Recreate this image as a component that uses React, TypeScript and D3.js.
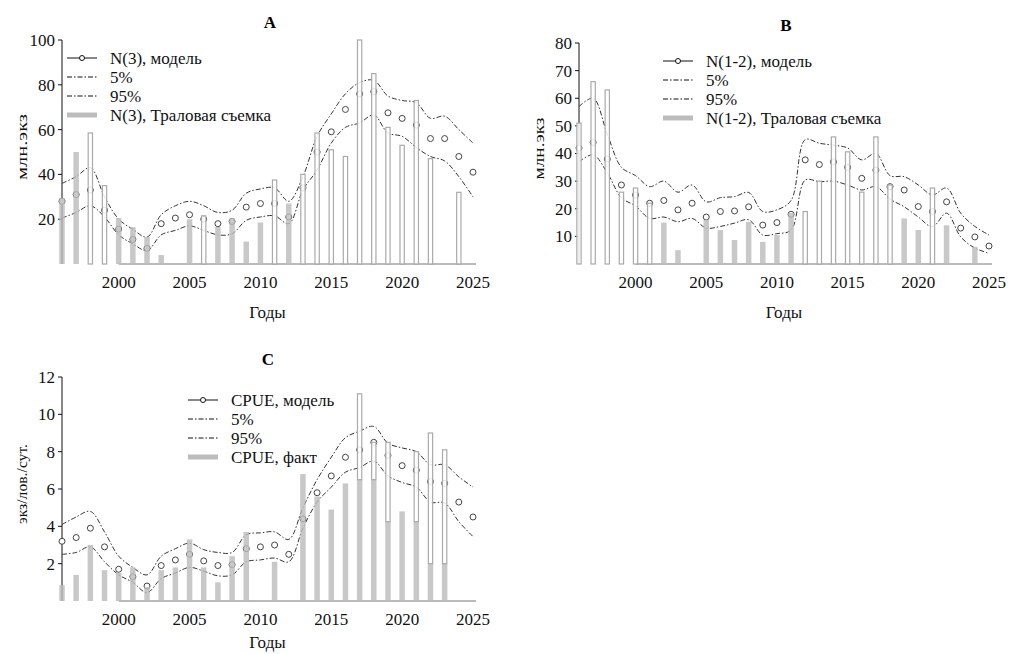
import * as d3 from "d3";

// categories
const years = [
  1996, 1997, 1998, 1999, 2000, 2001, 2002, 2003, 2004, 2005,
  2006, 2007, 2008, 2009, 2010, 2011, 2012, 2013, 2014, 2015,
  2016, 2017, 2018, 2019, 2020, 2021, 2022, 2023, 2024, 2025,
];
const xTicks = [2000, 2005, 2010, 2015, 2020, 2025];

// A: N(3)
const aModel = [28, 31, 33, 24, 15.6, 11, 7, 18, 20.5, 22, 20, 18, 19, 25.4, 27, 27, 21, 34, 50, 59, 69, 76, 77, 67.5, 65, 62, 56, 56, 48, 41];
const aLow = [20.5, 23, 26, 21, 13, 9, 6, 13, 15, 17, 15, 13, 13.5, 19.5, 21, 21.5, 18, 33, 42, 54, 61, 63, 66.5, 58.5, 57, 52, 48, 46, 39, 30];
const aHigh = [36, 39, 43, 30, 20, 15.5, 12, 22, 26, 28, 26, 23, 24, 31.6, 33.5, 34, 28, 39, 57, 67, 76, 81, 82, 75, 73, 72, 65, 66, 60, 54];
const aSurvey = [29.5, 50, 0, 0, 20.5, 16.5, 12, 4, 0, 20, 0, 16.5, 20.5, 10, 18.5, 0, 27, 0, 0, 0, 0, 0, 0, 0, 0, 0, 0, 0, 0, 0];
const aOutline = [null, null, 58.5, 35, null, null, null, null, null, null, 21.5, null, null, null, null, 37.5, null, 40, 58.5, 51, 48, 100, 85, 61, 53, 73, 47, null, 32, null];

// B: N(1-2)
const bModel = [42, 44, 38, 28.6, 25, 22, 23, 19.6, 22, 17, 19, 19.2, 20.7, 14.1, 15, 18, 37.7, 36, 37, 35, 31, 34, 28, 26.8, 20.8, 19, 22.5, 13, 9.8, 6.5];
const bLow = [37, 39.5, 33, 24, 21, 16.5, 17, 15.3, 16.5, 13, 13.6, 14.8, 16, 10.5, 11, 12.3, 30.4, 29.8, 30, 28.6, 26.8, 28, 23.5, 20.7, 17, 13.5, 18.4, 9.8, 5.8, 3.9];
const bHigh = [57, 60, 47, 35, 32, 28, 30, 26, 28.6, 22.5, 24, 24.4, 25.9, 19, 19.6, 23, 45, 43.7, 43, 42, 37.7, 40, 32, 31.6, 28.6, 25, 27.5, 18.4, 13.6, 10.5];
const bSurvey = [0, 0, 0, 0, 0, 0, 15, 5, 0, 16, 12.3, 8.7, 15.2, 8, 10.5, 18.5, 0, 0, 0, 0, 0, 0, 0, 16.5, 12.3, 0, 14, 0, 6.2, 0];
const bOutline = [51, 66, 63, 26, 27.5, 22, null, null, null, null, null, null, null, null, null, null, 19, 30, 46, 40.6, 26, 46, 28.6, null, null, 27.5, null, null, null, null];

// C: CPUE
const cModel = [3.2, 3.4, 3.9, 2.9, 1.7, 1.3, 0.8, 1.9, 2.2, 2.5, 2.15, 1.9, 1.95, 2.8, 2.9, 3.0, 2.5, 4.4, 5.8, 6.7, 7.7, 8.1, 8.5, 7.8, 7.25, 7.0, 6.4, 6.3, 5.3, 4.5];
const cLow = [2.5, 2.6, 2.9, 2.1, 1.4, 1.0, 0.45, 1.2, 1.5, 1.8, 1.6, 1.35, 1.4, 2.1, 2.2, 2.3, 2.1, 3.9, 5.3, 6.1, 6.9, 7.15, 7.5, 6.7, 6.35, 6.1, 5.3, 5.25, 4.25, 3.45];
const cHigh = [4.1, 4.5, 4.8, 3.7, 2.4, 1.8, 1.4, 2.4, 2.8, 3.1, 2.75, 2.6, 2.6, 3.55, 3.65, 3.7, 3.3, 5.0, 6.5, 7.7, 8.75, 9.1, 9.35, 8.45, 8.2, 8.0, 7.3, 7.3, 6.65, 6.1];
const cFact = [0.85, 1.4, 3.0, 1.65, 1.5, 1.8, 0.75, 1.65, 1.8, 3.3, 1.8, 1.0, 2.4, 3.7, 0, 2.1, 0, 6.8, 5.6, 4.9, 6.3, 6.5, 6.5, 4.25, 4.8, 4.25, 2.0, 2.0, 0, 0];
const cOutline = [null, null, null, null, null, null, null, null, null, null, null, null, null, null, null, null, null, null, null, null, null, 11.1, 8.5, 8.5, null, 8.0, 9.0, 8.1, null, null];

const FONT = "'Liberation Serif', 'Times New Roman', serif";
const DASH = "5,2,1.5,2";

type PanelCfg = {
  title: string;
  titleX: number;
  left: number;
  right: number;
  top: number;
  bottom: number;
  yMax: number;
  yTicks: number[];
  yLabel: string;
  yLabelX: number;
  yLabelLen: number;
  xTitleOffset: number;
  legendX: number;
  legendY: number;
  legend: string[];
  model: number[];
  low: number[];
  high: number[];
  fill: number[];
  outline: (number | null)[];
};

const panels: PanelCfg[] = [
  {
    title: "A", titleX: 270, left: 62, right: 473, top: 40, bottom: 264,
    yMax: 100, yTicks: [20, 40, 60, 80, 100], yLabel: "млн.экз", yLabelX: 22, yLabelLen: 66,
    xTitleOffset: 54, legendX: 67, legendY: 58,
    legend: ["N(3), модель", "5%", "95%", "N(3), Траловая съемка"],
    model: aModel, low: aLow, high: aHigh, fill: aSurvey, outline: aOutline,
  },
  {
    title: "B", titleX: 786, left: 579, right: 989, top: 43, bottom: 264,
    yMax: 80, yTicks: [10, 20, 30, 40, 50, 60, 70, 80], yLabel: "млн.экз", yLabelX: 539, yLabelLen: 62,
    xTitleOffset: 54, legendX: 663, legendY: 61,
    legend: ["N(1-2), модель", "5%", "95%", "N(1-2), Траловая съемка"],
    model: bModel, low: bLow, high: bHigh, fill: bSurvey, outline: bOutline,
  },
  {
    title: "C", titleX: 268, left: 62, right: 473, top: 377, bottom: 601,
    yMax: 12, yTicks: [2, 4, 6, 8, 10, 12], yLabel: "экз/лов./сут.", yLabelX: 22, yLabelLen: 80,
    xTitleOffset: 47, legendX: 188, legendY: 400,
    legend: ["CPUE, модель", "5%", "95%", "CPUE, факт"],
    model: cModel, low: cLow, high: cHigh, fill: cFact, outline: cOutline,
  },
];

function Panel({ cfg }: { cfg: PanelCfg }) {
  const x = d3.scaleLinear().domain([1996, 2025]).range([cfg.left, cfg.right]);
  const y = d3.scaleLinear().domain([0, cfg.yMax]).range([cfg.bottom, cfg.top]);
  const line = d3.line<number>()
    .x((_, i) => x(years[i]))
    .y((d) => y(d))
    .curve(d3.curveCatmullRom.alpha(0.5));
  const bw = 5.5;
  const midX = (cfg.left + cfg.right) / 2;

  return (
    <g fontFamily={FONT}>
      <text x={cfg.titleX} y={cfg.top - 12} textAnchor="middle" fontSize={17} fontWeight="bold">{cfg.title}</text>

      {/* x axis baseline */}
      <line x1={x(2000)} x2={x(2025) + 3} y1={y(0)} y2={y(0)} stroke="#777" strokeWidth={1} />

      {/* y axis */}
      <line x1={cfg.left} x2={cfg.left} y1={y(cfg.yMax)} y2={y(0)} stroke="#111" strokeWidth={1} />
      {cfg.yTicks.map((t) => (
        <g key={t}>
          <line x1={cfg.left - 4} x2={cfg.left} y1={y(t)} y2={y(t)} stroke="#111" />
          <text x={cfg.left - 7} y={y(t)} dy="0.35em" textAnchor="end" fontSize={17} fill="#111">{t}</text>
        </g>
      ))}
      {xTicks.map((t) => (
        <text key={t} x={x(t)} y={y(0) + 24} textAnchor="middle" fontSize={17} fill="#111">{t}</text>
      ))}
      <text x={midX} y={y(0) + cfg.xTitleOffset} textAnchor="middle" fontSize={17} fill="#111">Годы</text>
      <text
        transform={`translate(${cfg.yLabelX},${(cfg.top + cfg.bottom) / 2 - 5}) rotate(-90)`}
        textAnchor="middle" dy="0.35em" fontSize={15} fill="#111"
        textLength={cfg.yLabelLen} lengthAdjust="spacingAndGlyphs"
      >{cfg.yLabel}</text>

      {/* confidence bounds */}
      <path d={line(cfg.high) ?? ""} fill="none" stroke="#333" strokeWidth={1} strokeDasharray={DASH} />
      <path d={line(cfg.low) ?? ""} fill="none" stroke="#333" strokeWidth={1} strokeDasharray={DASH} />
      {cfg.model.map((v, i) => (
        <circle key={i} cx={x(years[i])} cy={y(v)} r={3} fill="white" stroke="#444" strokeWidth={1} />
      ))}

      {/* survey bars */}
      {cfg.fill.map((v, i) => v > 0 ? (
        <rect key={"f" + i} x={x(years[i]) - bw / 2} y={y(v)} width={bw} height={y(0) - y(v)} fill="#bcbcbc" fillOpacity={0.82} />
      ) : null)}
      {cfg.outline.map((v, i) => v != null ? (
        <rect key={"o" + i} x={x(years[i]) - bw / 2 + 0.6} y={y(v)} width={bw - 1.2} height={y(cfg.fill[i]) - y(v)}
          fill="white" fillOpacity={0.85} stroke="#aaa" strokeWidth={1.2} />
      ) : null)}

      {/* legend */}
      <g fontSize={17} fill="#111">
        {cfg.legend.map((label, i) => {
          const ly = cfg.legendY + i * 19;
          const lx = cfg.legendX;
          return (
            <g key={i}>
              {i === 0 && (
                <>
                  <line x1={lx} x2={lx + 30} y1={ly} y2={ly} stroke="#111" strokeWidth={1} />
                  <circle cx={lx + 15} cy={ly} r={2.5} fill="white" stroke="#111" />
                </>
              )}
              {(i === 1 || i === 2) && (
                <line x1={lx} x2={lx + 30} y1={ly} y2={ly} stroke="#111" strokeWidth={1} strokeDasharray={DASH} />
              )}
              {i === 3 && (
                <line x1={lx} x2={lx + 30} y1={ly} y2={ly} stroke="#bcbcbc" strokeWidth={5} />
              )}
              <text x={lx + 43} y={ly + 6}>{label}</text>
            </g>
          );
        })}
      </g>
    </g>
  );
}

export default function App() {
  return (
    <svg width={1013} height={654} style={{ position: "absolute", left: 0, top: 0, background: "white" }}>
      <rect width={1013} height={654} fill="white" />
      {panels.map((p) => (
        <Panel key={p.title} cfg={p} />
      ))}
    </svg>
  );
}
